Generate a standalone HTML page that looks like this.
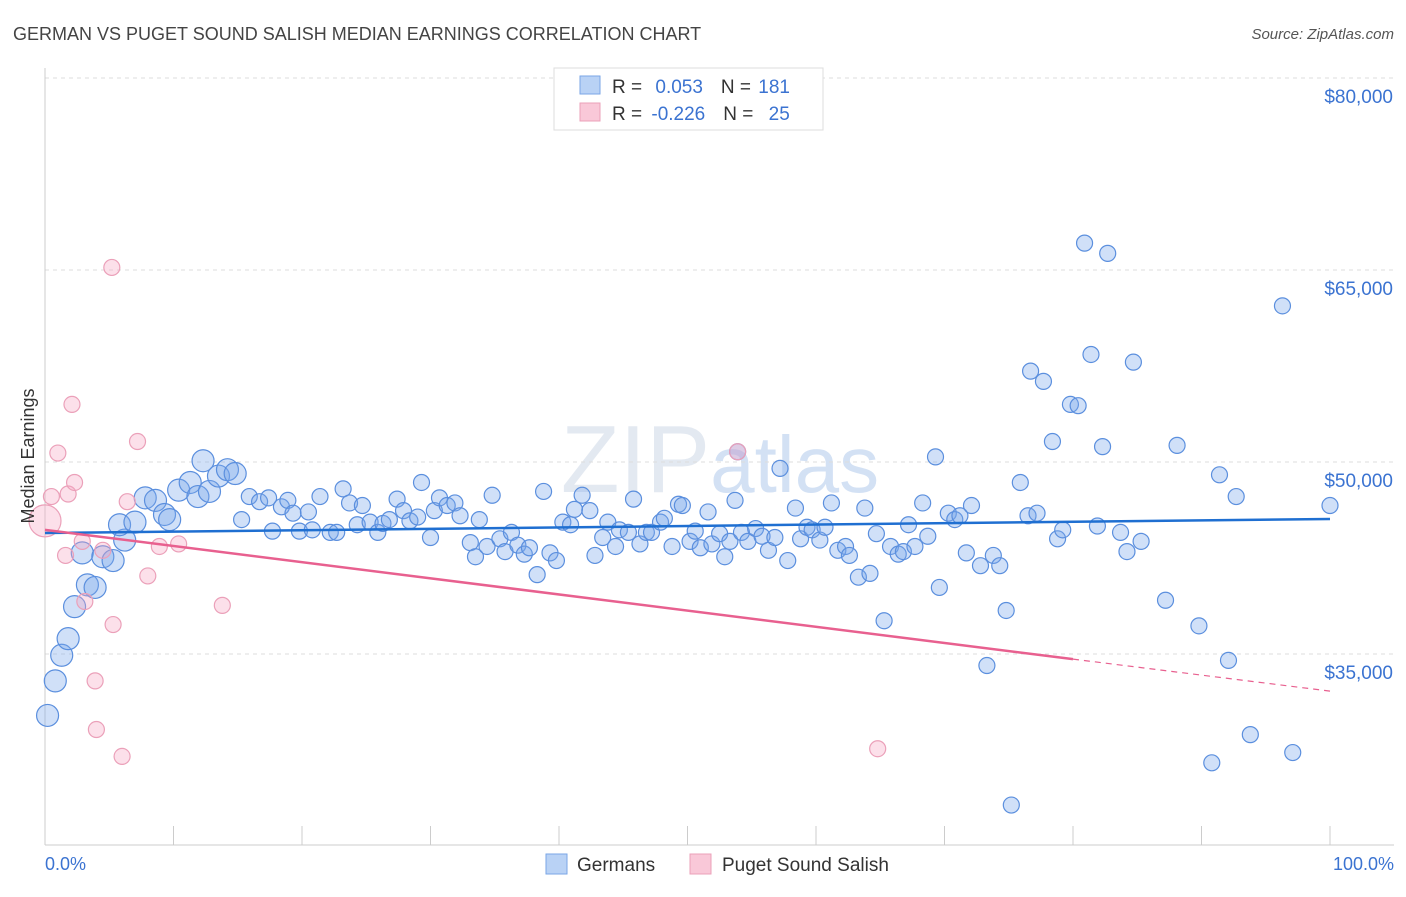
<!DOCTYPE html>
<html><head><meta charset="utf-8">
<style>
body{margin:0;background:#fff;font-family:"Liberation Sans",sans-serif;}
svg text{font-family:"Liberation Sans",sans-serif;}
</style></head>
<body>
<svg id="chart" width="1406" height="892" viewBox="0 0 1406 892" xmlns="http://www.w3.org/2000/svg">
<text x="13" y="40" font-size="18" fill="#444">GERMAN VS PUGET SOUND SALISH MEDIAN EARNINGS CORRELATION CHART</text>
<text x="1394" y="39" font-size="15" fill="#555" text-anchor="end" font-style="italic">Source: ZipAtlas.com</text>
<text x="720" y="492" font-size="96" fill="#dde4ee" text-anchor="middle" font-family="Liberation Serif" opacity="0.8">ZIP<tspan fill="#c9daf2" font-family="Liberation Sans" font-size="80">atlas</tspan></text>
<g id="grid"></g>
<g id="axes"></g>
<g id="points"></g>
<g id="trends"></g>
<text transform="translate(34,456) rotate(-90)" font-size="18" fill="#333" text-anchor="middle">Median Earnings</text>
<text x="45" y="870" font-size="18" fill="#3b73d1">0.0%</text>
<text x="1394" y="870" font-size="18" fill="#3b73d1" text-anchor="end">100.0%</text>
<g>
<rect x="554" y="68" width="269" height="62" fill="#fff" stroke="#ddd"/>
<rect x="580" y="76" width="20" height="18" fill="#b9d2f5" stroke="#7aa6e6"/>
<rect x="580" y="103" width="20" height="18" fill="#f9c8d8" stroke="#eba0b9"/>
<text x="612" y="93" font-size="19" fill="#333">R = <tspan fill="#3b73d1" dx="8">0.053</tspan><tspan dx="18" fill="#333">N = </tspan><tspan fill="#3b73d1" dx="2">181</tspan></text>
<text x="612" y="120" font-size="19" fill="#333">R = <tspan fill="#3b73d1" dx="4">-0.226</tspan><tspan dx="18" fill="#333">N = </tspan><tspan fill="#3b73d1" dx="10">25</tspan></text>
</g>
<g>
<rect x="546" y="854" width="21" height="20" fill="#b9d2f5" stroke="#7aa6e6"/>
<text x="577" y="871" font-size="19" fill="#333">Germans</text>
<rect x="690" y="854" width="21" height="20" fill="#f9c8d8" stroke="#eba0b9"/>
<text x="722" y="871" font-size="19" fill="#333">Puget Sound Salish</text>
</g>
</svg>
<script>
const yTicks=[35000,50000,65000,80000];
const yTickLabels=["$35,000","$50,000","$65,000","$80,000"];
const xTicks=[0,10,20,30,40,50,60,70,80,90,100];
const blueX=[0.2,0.8,1.3,1.8,2.3,3.3,3.9,2.9,4.5,5.3,6.2,5.8,7.0,7.8,8.6,9.3,9.7,10.4,11.3,11.9,12.8,12.3,13.5,14.2,14.8,15.3,15.9,16.7,17.4,17.7,18.4,18.9,19.3,19.8,20.5,20.8,21.4,22.2,22.7,23.2,23.7,24.3,24.7,25.3,25.9,26.3,26.8,27.4,27.9,28.4,29.0,29.3,30.0,30.3,30.7,31.3,31.9,32.3,33.1,33.5,33.8,34.4,34.8,35.4,35.8,36.3,36.8,37.3,37.7,38.3,38.8,39.3,39.8,40.3,40.9,41.2,41.8,42.4,42.8,43.4,43.8,44.4,44.7,45.4,45.8,46.3,46.8,47.2,47.9,48.2,48.8,49.3,49.6,50.2,50.6,51.0,51.6,51.9,52.5,52.9,53.3,53.7,53.9,54.2,54.7,55.3,55.8,56.3,56.8,57.2,57.8,58.4,58.8,59.3,59.7,60.3,60.7,61.2,61.7,62.3,62.6,63.3,63.8,64.2,64.7,65.3,65.8,66.4,66.8,67.2,67.7,68.3,68.7,69.3,69.6,70.3,70.8,71.2,71.7,72.1,72.8,73.3,73.8,74.3,74.8,75.2,75.9,76.5,76.7,77.2,77.7,78.4,78.8,79.2,79.8,80.4,80.9,81.4,81.9,82.3,82.7,83.7,84.2,84.7,85.3,87.2,88.1,89.8,90.8,91.4,92.1,92.7,93.8,96.3,97.1,100];
const blueY=[30.2,32.9,34.9,36.2,38.7,40.4,40.2,42.9,42.6,42.3,43.9,45.1,45.3,47.2,47.0,45.9,45.5,47.8,48.4,47.3,47.7,50.1,48.9,49.4,49.1,45.5,47.3,46.9,47.2,44.6,46.5,47.0,46.0,44.6,46.1,44.7,47.3,44.5,44.5,47.9,46.8,45.1,46.6,45.3,44.5,45.2,45.5,47.1,46.2,45.4,45.7,48.4,44.1,46.2,47.2,46.6,46.8,45.8,43.7,42.6,45.5,43.4,47.4,44.0,43.0,44.5,43.5,42.8,43.3,41.2,47.7,42.9,42.3,45.3,45.1,46.3,47.4,46.2,42.7,44.1,45.3,43.4,44.7,44.5,47.1,43.6,44.5,44.5,45.3,45.6,43.4,46.7,46.6,43.8,44.6,43.3,46.1,43.6,44.4,42.6,43.8,47.0,50.8,44.5,43.8,44.8,44.2,43.1,44.1,49.5,42.3,46.4,44.0,44.9,44.7,43.9,44.9,46.8,43.1,43.4,42.7,41.0,46.4,41.3,44.4,37.6,43.4,42.8,43.0,45.1,43.4,46.8,44.2,50.4,40.2,46.0,45.5,45.8,42.9,46.6,41.9,34.1,42.7,41.9,38.4,23.2,48.4,45.8,57.1,46.0,56.3,51.6,44.0,44.7,54.5,54.4,67.1,58.4,45.0,51.2,66.3,44.5,43.0,57.8,43.8,39.2,51.3,37.2,26.5,49.0,34.5,47.3,28.7,62.2,27.3,46.6];
const pinkX=[0,0.5,1.0,1.8,2.1,2.3,2.9,3.1,4.0,3.9,4.5,5.3,5.2,6.0,6.4,7.2,8.0,8.9,10.4,13.8,53.9,64.8,1.6];
const pinkY=[45.4,47.3,50.7,47.5,54.5,48.4,43.8,39.1,29.1,32.9,43.1,37.3,65.2,27.0,46.9,51.6,41.1,43.4,43.6,38.8,50.8,27.6,42.7];
const blueTrendX=[0,100];
const blueTrendY=[44.45,45.55];
const pinkTrendX=[0,80,100];
const pinkTrendY=[44.7,34.6,32.1];

const NS="http://www.w3.org/2000/svg";
const X0=45,X1=1330,YTOP=78,PXPERK=192/15;
function xs(p){return X0+(X1-X0)*p/100;}
function ys(k){return YTOP+(80-k)*PXPERK;}
function mk(tag,attrs,parent){const e=document.createElementNS(NS,tag);for(const k in attrs)e.setAttribute(k,attrs[k]);parent.appendChild(e);return e;}

const grid=document.getElementById('grid');
yTicks.forEach((v,i)=>{
  const y=ys(v/1000);
  const l=mk('line',{x1:X0,x2:1394,y1:y,y2:y,stroke:'#ddd','stroke-dasharray':'4,4'},grid);
  
  
  const t=mk('text',{x:1393,y:y+25,'font-size':19,fill:'#3b73d1','text-anchor':'end'},grid);
  t.textContent=yTickLabels[i];
  
  
});
const axes=document.getElementById('axes');
const xa=mk('line',{x1:X0,x2:1394,y1:845,y2:845,stroke:'#ccc'},axes);


const ya=mk('line',{x1:X0,x2:X0,y1:68,y2:845,stroke:'#ccc'},axes);


xTicks.forEach(p=>{
  const t=mk('line',{x1:xs(p),x2:xs(p),y1:826,y2:845,stroke:'#ccc'},axes);
  
  
});
const pts=document.getElementById('points');
blueX.forEach((p,i)=>{
  const r=p<15?11:8;
  const c=mk('circle',{cx:xs(p),cy:ys(blueY[i]),r:r,fill:'rgba(120,165,235,0.35)',stroke:'#5b8fde','stroke-width':1.2},pts);
  
  
});
pinkX.forEach((p,i)=>{
  const r=i===0?16:8;
  const c=mk('circle',{cx:xs(p),cy:ys(pinkY[i]),r:r,fill:'rgba(245,165,195,0.35)',stroke:'#eba0b9','stroke-width':1.2},pts);
  
  
});
const tr=document.getElementById('trends');
const bl=mk('line',{x1:xs(blueTrendX[0]),y1:ys(blueTrendY[0]),x2:xs(blueTrendX[1]),y2:ys(blueTrendY[1]),stroke:'#1f6fd1','stroke-width':2.5},tr);


const pl=mk('line',{x1:xs(pinkTrendX[0]),y1:ys(pinkTrendY[0]),x2:xs(pinkTrendX[1]),y2:ys(pinkTrendY[1]),stroke:'#e8608f','stroke-width':2.5},tr);


const pd=mk('line',{x1:xs(pinkTrendX[1]),y1:ys(pinkTrendY[1]),x2:xs(pinkTrendX[2]),y2:ys(pinkTrendY[2]),stroke:'#e8608f','stroke-width':1.2,'stroke-dasharray':'6,5'},tr);


</script>
</body></html>
